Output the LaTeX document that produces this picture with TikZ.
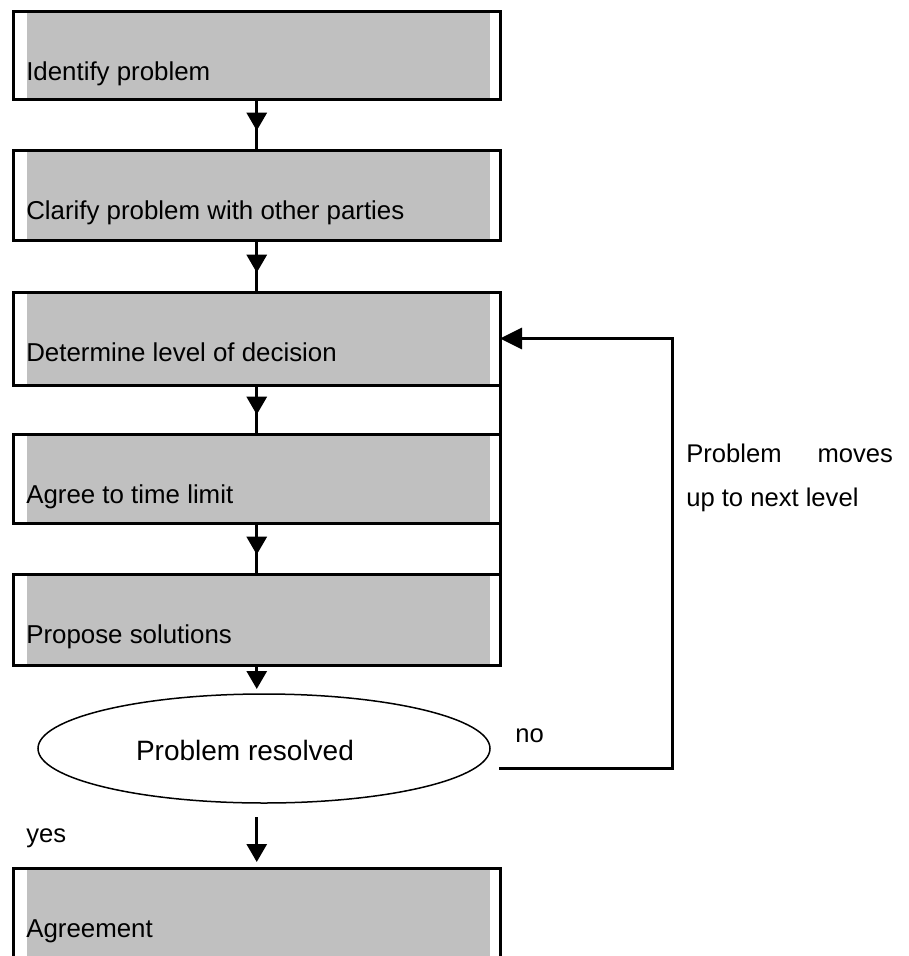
\documentclass[tikz,border=0pt]{standalone}
\usepackage{fontspec}
\setmainfont{Liberation Sans}
\usetikzlibrary{arrows.meta,shapes.geometric}
\definecolor{boxgray}{RGB}{192,192,192}
\begin{document}
\begin{tikzpicture}[x=0.75pt,y=-0.75pt,
  stepbox/.style={draw, line width=2.25pt, fill=white, minimum width=364.875pt,
    anchor=north west, outer sep=0pt, inner sep=0pt,
    path picture={\fill[boxgray]
      ([xshift=10.125pt,yshift=1.125pt]path picture bounding box.south west) rectangle
      ([xshift=-7.5pt,yshift=-1.125pt]path picture bounding box.north east);}},
  steptext/.style={anchor=base west, inner sep=0pt, font=\fontsize{19.4pt}{23pt}\selectfont},
  plaintext/.style={anchor=base west, inner sep=0pt, font=\fontsize{19.2pt}{23pt}\selectfont},
  conn/.style={line width=2.25pt},
  flow/.style={line width=2.25pt, -{Triangle[length=13.5pt,width=15pt]}},
  backflow/.style={line width=2.25pt, -{Triangle[length=16.5pt,width=15.75pt]}}
]
\clip (0,0) rectangle (908,956);
\fill[white] (0,0) rectangle (908,956);

% boxes
\node[stepbox, minimum height=65.775pt] (b1) at (13.5,11.3) {};
\node[stepbox, minimum height=67.5pt]   (b2) at (13.5,150) {};
\node[stepbox, minimum height=69.75pt]  (b3) at (13.5,292) {};
\node[stepbox, minimum height=66.75pt]  (b4) at (13.5,434) {};
\node[stepbox, minimum height=68.25pt]  (b5) at (13.5,574) {};
\node[stepbox, minimum height=69pt]     (b6) at (13.5,868) {};

% box texts
\node[steptext] (t1) at ([xshift=9.375pt,yshift=-52.125pt]b1.north west) {Identify problem};
\node[steptext] (t2) at ([xshift=9.375pt,yshift=-52.125pt]b2.north west) {Clarify problem with other parties};
\node[steptext] (t3) at ([xshift=9.375pt,yshift=-52.125pt]b3.north west) {Determine level of decision};
\node[steptext] (t4) at ([xshift=9.375pt,yshift=-52.125pt]b4.north west) {Agree to time limit};
\node[steptext] (t5) at ([xshift=9.375pt,yshift=-52.125pt]b5.north west) {Propose solutions};
\node[steptext] (t6) at ([xshift=9.375pt,yshift=-52.125pt]b6.north west) {Agreement};

% decision ellipse
\node[draw, ellipse, line width=1.125pt, minimum width=339pt, minimum height=81.75pt,
      inner sep=0pt, outer sep=0pt] (res) at (264,748.5) {};
\node[anchor=base, inner sep=0pt, font=\fontsize{21pt}{25pt}\selectfont] (rt) at (245,760) {Problem resolved};

% labels
\node[plaintext] (no) at (515,742) {no};
\node[plaintext] (yes) at (26,842) {yes};
\node[plaintext] (pm1) at (686,462) {\makebox[155pt][s]{Problem moves}};
\node[plaintext] (pm2) at (686,506) {up to next level};

% connectors between boxes
\draw[conn] (b1.south) -- (b2.north);
\draw[flow] (b1.south) -- ([yshift=14.5pt]b2.north);
\draw[conn] (b2.south) -- (b3.north);
\draw[flow] (b2.south) -- ([yshift=14.5pt]b3.north);
\draw[conn] (b3.south) -- (b4.north);
\draw[flow] (b3.south) -- ([yshift=14.5pt]b4.north);
\draw[conn] (b4.south) -- (b5.north);
\draw[flow] (b4.south) -- ([yshift=14.5pt]b5.north);
\draw[flow] (b5.south) -- ([yshift=3.75pt]b5.south |- res.north);

% right side line joining boxes 3 to 5
\draw[conn] (b3.south east) -- (b5.north east);

% yes arrow
\coordinate (ys) at (256.75,817);
\draw[flow] (ys) -- ([yshift=4.5pt]b6.north);

% feedback loop
\coordinate (fb) at (499,768);
\coordinate (fc) at (672,768);
\draw[backflow] (fb) -- (fc) |- (b3.east);
\end{tikzpicture}
\end{document}
